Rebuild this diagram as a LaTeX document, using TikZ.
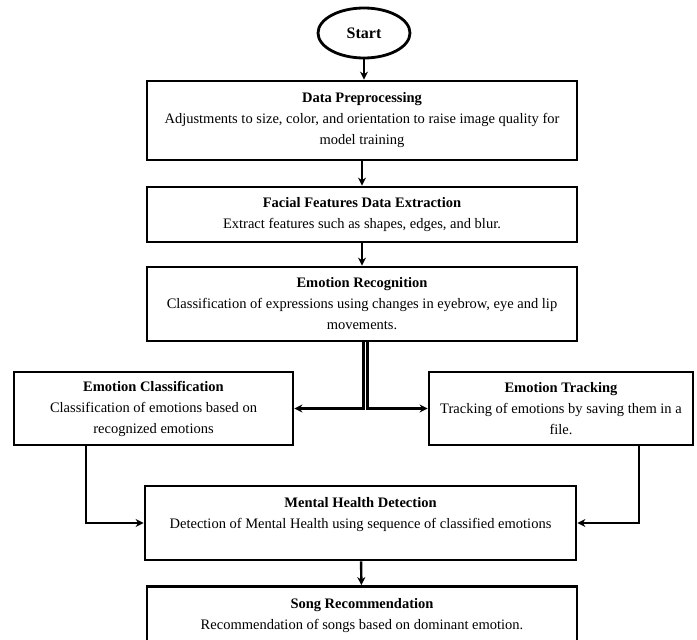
\documentclass[tikz,border=0pt]{standalone}
\usepackage{fontspec}
\setmainfont{Liberation Serif}
\usetikzlibrary{arrows.meta,positioning,shapes.geometric}
\tikzset{
  >={Stealth[length=8pt,width=8pt]},
  box/.style={draw,line width=2.8pt,minimum width=#1,align=center,
    font=\fontsize{14.5}{21}\selectfont,inner sep=2pt},
  box/.default=430pt,
  terminal/.style={ellipse,draw,line width=2.8pt,minimum width=92pt,minimum height=50pt,
    font=\fontsize{16}{18}\selectfont\bfseries},
  flow/.style={->,line width=2.4pt},
}
\begin{document}
\begin{tikzpicture}[x=1pt,y=-1pt]
  \useasboundingbox (0,0) rectangle (697,640);
  \clip (0,0) rectangle (697,640);
  \node[terminal] (start) at (364,33) {Start};
  \node[box,minimum height=79pt] (prep) at (362,120.5) {\textbf{Data Preprocessing}\\
    Adjustments to size, color, and orientation to raise image quality for\\ model training};
  \node[box,minimum height=55pt] (feat) at (362,214.5) {\textbf{Facial Features Data Extraction}\\
    Extract features such as shapes, edges, and blur.};
  \node[box,minimum height=74pt] (recog) at (362,304) {\textbf{Emotion Recognition}\\
    Classification of expressions using changes in eyebrow, eye and lip\\ movements.};
  \node[box=279pt,minimum height=73pt] (classif) at (153.5,408.5) {\textbf{Emotion Classification}\\
    Classification of emotions based on\\ recognized emotions};
  \node[box=264pt,minimum height=73pt] (track) at (561,408.5) {\textbf{Emotion Tracking}\\
    Tracking of emotions by saving them in a\\ file.};
  \node[box=431pt,minimum height=74pt] (mental) at (360.5,523) {\textbf{Mental Health Detection}\\
    Detection of Mental Health using sequence of classified emotions\\ \mbox{}};
  % bottom box runs off the page
  \node[box,minimum height=75pt] (song) at (362,624) {\textbf{Song Recommendation}\\
    Recommendation of songs based on dominant emotion.\\ \mbox{}};
  \draw[flow] (start.south) -- (start.south |- prep.north);
  \draw[flow] (prep) -- (feat);
  \draw[flow] (feat) -- (recog);
  \draw[flow] ([xshift=1.5pt]recog.south) |- (classif.east);
  \draw[flow] ([xshift=5.5pt]recog.south) |- (track.west);
  \draw[flow] ([xshift=-67.5pt]classif.south) |- (mental.west);
  \draw[flow] ([xshift=78pt]track.south) |- (mental.east);
  \draw[flow] (mental) -- (song);
\end{tikzpicture}
\end{document}
